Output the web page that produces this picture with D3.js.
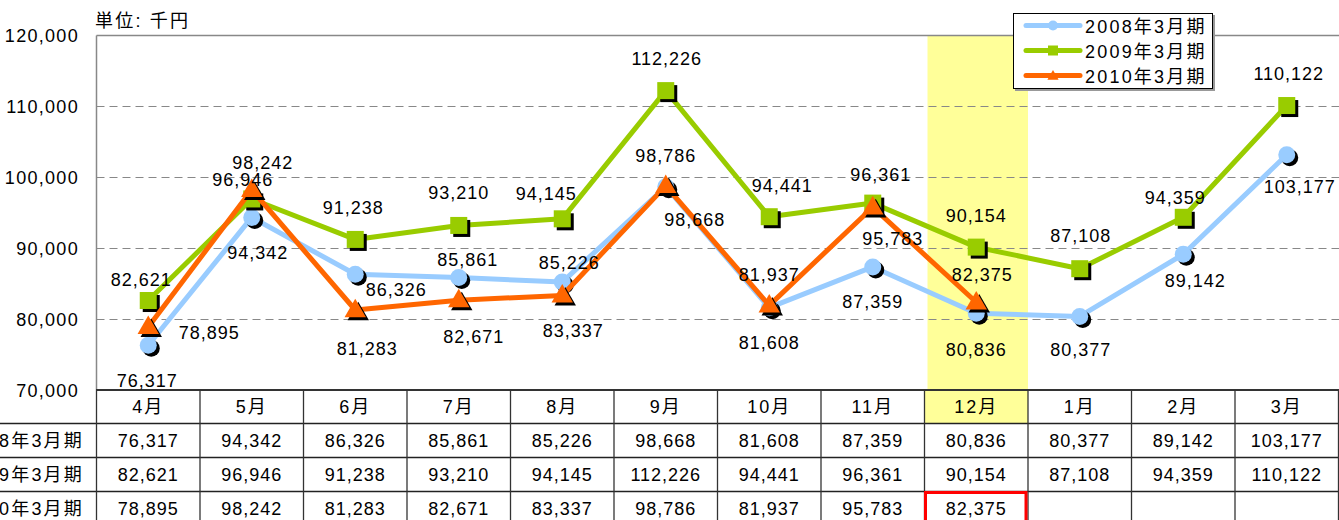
<!DOCTYPE html>
<html><head><meta charset="utf-8">
<script src="https://cdn.jsdelivr.net/npm/d3@7/dist/d3.min.js"></script>
<style>
html,body{margin:0;padding:0;background:#fff;overflow:hidden;}
svg text{font-family:"Liberation Sans","Noto Sans CJK JP",sans-serif;font-size:18px;letter-spacing:1px;fill:#000;}
svg text.jp{letter-spacing:2.2px;}
</style></head>
<body>
<svg id="chart" width="1339" height="520"></svg>
<script>
// ---- data ----
const months = ["4月","5月","6月","7月","8月","9月","10月","11月","12月","1月","2月","3月"];
const seriesNames = ["2008年3月期","2009年3月期","2010年3月期"];
const fy2008 = [76317,94342,86326,85861,85226,98668,81608,87359,80836,80377,89142,103177];
const fy2009 = [82621,96946,91238,93210,94145,112226,94441,96361,90154,87108,94359,110122];
const fy2010 = [78895,98242,81283,82671,83337,98786,81937,95783,82375,null,null,null];
const yTicks = [70000,80000,90000,100000,110000,120000];
const unitLabel = "単位: 千円";
const highlightMonth = "12月";

// ---- label placement (presentation only) ----
const labelOffsets = [
  [[-1,35],[6,35],[41,15],[9,-18],[7,-20],[29,33],[0,35],[0,35],[0,36],[1,33],[12,26],[13,32]],
  [[-7,-21],[-9,-19],[-2,-32],[0,-33],[-16,-25],[1,-32],[13,-31],[8,-29],[0,-32],[1,-33],[-8,-20],[2,-32]],
  [[61,6],[11,-27],[12,39],[15,36],[11,35],[0,-30],[0,-31],[20,31],[6,-28]]
];
const colors = ["#99ccff","#99cc00","#ff6600"];
const shapes = ["circle","square","triangle"];

const svg = d3.select("#chart");
const fmt = d3.format(",");
const x = d3.scaleBand().domain(months).range([96.5,1338.5]).paddingInner(0).paddingOuter(0);
const y = d3.scaleLinear().domain([70000,120000]).range([390,35.5]);
const cx = m => x(m) + x.bandwidth()/2;

// highlight column
svg.append("rect").attr("x",x(highlightMonth)+3).attr("y",y(120000))
  .attr("width",x.bandwidth()-3).attr("height",y(70000)-y(120000)+33).attr("fill","#ffff99");

// gridlines
const grid = svg.append("g");
yTicks.filter(t=>t>70000 && t<120000).forEach(t=>{
  grid.append("line").attr("x1",96.5).attr("x2",1339).attr("y1",Math.round(y(t))+0.5).attr("y2",Math.round(y(t))+0.5)
    .attr("stroke","#888").attr("stroke-width",1).attr("stroke-dasharray","8,5");
});
// frame
svg.append("line").attr("x1",96.5).attr("x2",1339).attr("y1",35.5).attr("y2",35.5).attr("stroke","#888").attr("stroke-width",1.5);
svg.append("line").attr("x1",96.5).attr("x2",96.5).attr("y1",35.5).attr("y2",390).attr("stroke","#888").attr("stroke-width",1.5);

// y axis labels
const yAxis = d3.axisLeft(y).tickValues(yTicks).tickFormat(fmt).tickSize(0).tickPadding(0);
const ya = svg.append("g").attr("transform","translate(79,0)").call(yAxis);
ya.select(".domain").remove();
ya.selectAll("text").attr("font-size",null).attr("font-family",null).style("text-anchor","end").attr("dy","0.36em").attr("x",0).style("letter-spacing","1.3px");

// unit label
svg.append("text").attr("class","jp").attr("x",95).attr("y",27).text(unitLabel);

// ---- table ----
const rowsY = [390,423.5,457.5,491.5];
const tbl = svg.append("g");
tbl.append("rect").attr("x",x(highlightMonth)).attr("y",390).attr("width",x.bandwidth()).attr("height",33.5).attr("fill","#ffff99");
tbl.append("line").attr("x1",96).attr("x2",1339).attr("y1",390).attr("y2",390).attr("stroke","#333").attr("stroke-width",2);
[423.5,457.5,491.5].forEach(v=>tbl.append("line").attr("x1",0).attr("x2",1339).attr("y1",v).attr("y2",v).attr("stroke","#222").attr("stroke-width",1.3));
months.forEach((m,i)=>{
  tbl.append("line").attr("x1",x(m)).attr("x2",x(m)).attr("y1",390).attr("y2",520).attr("stroke", "#333").attr("stroke-width",1.3);
});
tbl.append("line").attr("x1",1338.5).attr("x2",1338.5).attr("y1",390).attr("y2",520).attr("stroke","#333").attr("stroke-width",1.3);
months.forEach(m=>{
  tbl.append("text").attr("x",cx(m)).attr("y",407).attr("dy","0.36em").attr("text-anchor","middle").style("letter-spacing","2px").text(m);
});
const allSeries = [fy2008,fy2009,fy2010];
allSeries.forEach((s,si)=>{
  const ry = (rowsY[si+1]+ (rowsY[si+2]||525))/2;
  tbl.append("text").attr("class","jp").attr("x",84).attr("y",ry).attr("dy","0.36em").attr("text-anchor","end").text(seriesNames[si]);
  s.forEach((v,i)=>{
    if(v==null) return;
    tbl.append("text").attr("x",cx(months[i])).attr("y",ry).attr("dy","0.36em").attr("text-anchor","middle").text(fmt(v));
  });
});
const lastIdx = fy2010.filter(v=>v!=null).length-1;
tbl.append("rect").attr("x",x(months[lastIdx])+1).attr("y",492.5).attr("width",x.bandwidth()-3).attr("height",40)
  .attr("fill","none").attr("stroke","#ff0000").attr("stroke-width",3);

// ---- lines & markers ----
function marker(g, shape, px, py, size, fill){
  if(shape==="circle") g.append("circle").attr("cx",px).attr("cy",py).attr("r",size/2).attr("fill",fill);
  else if(shape==="square") g.append("rect").attr("x",px-size/2).attr("y",py-size/2).attr("width",size).attr("height",size).attr("fill",fill);
  else g.append("path").attr("d",d3.symbol(d3.symbolTriangle, size*size*0.55)()).attr("transform",`translate(${px},${py+1})`).attr("fill",fill);
}
const markerSize = [17,17,19];
const line = d3.line().defined(d=>d.v!=null).x(d=>cx(d.m)).y(d=>y(d.v));
allSeries.forEach((s,si)=>{
  const pts = s.map((v,i)=>({m:months[i],v}));
  const g = svg.append("g");
  g.append("path").datum(pts).attr("d",line).attr("fill","none").attr("stroke",colors[si]).attr("stroke-width",5).attr("stroke-linejoin","round");
  pts.filter(d=>d.v!=null).forEach(d=>{
    marker(g, shapes[si], cx(d.m)+3, y(d.v)+3, markerSize[si], "#000");
    marker(g, shapes[si], cx(d.m), y(d.v), markerSize[si], colors[si]);
  });
});
allSeries.forEach((s,si)=>{
  s.forEach((v,i)=>{
    if(v==null) return;
    const o = labelOffsets[si][i];
    svg.append("text").attr("x",cx(months[i])+o[0]).attr("y",y(v)+o[1]).attr("dy","0.36em").attr("text-anchor","middle").text(fmt(v));
  });
});

// ---- legend ----
const lg = svg.append("g").attr("transform","translate(1013,13)");
lg.append("rect").attr("x",2).attr("y",2).attr("width",200).attr("height",76).attr("fill","#999");
lg.append("rect").attr("x",0.5).attr("y",0.5).attr("width",199).attr("height",75).attr("fill","#fff").attr("stroke","#000").attr("stroke-width",1);
seriesNames.forEach((n,i)=>{
  const ly = 12.5 + i*25;
  lg.append("line").attr("x1",13).attr("x2",67).attr("y1",ly).attr("y2",ly).attr("stroke",colors[i]).attr("stroke-width",5).attr("stroke-linecap","round");
  marker(lg, shapes[i], 40, ly, 10, colors[i]);
  lg.append("text").attr("class","jp").attr("x",72).attr("y",ly+1).attr("dy","0.36em").text(n);
});
</script>
</body></html>
